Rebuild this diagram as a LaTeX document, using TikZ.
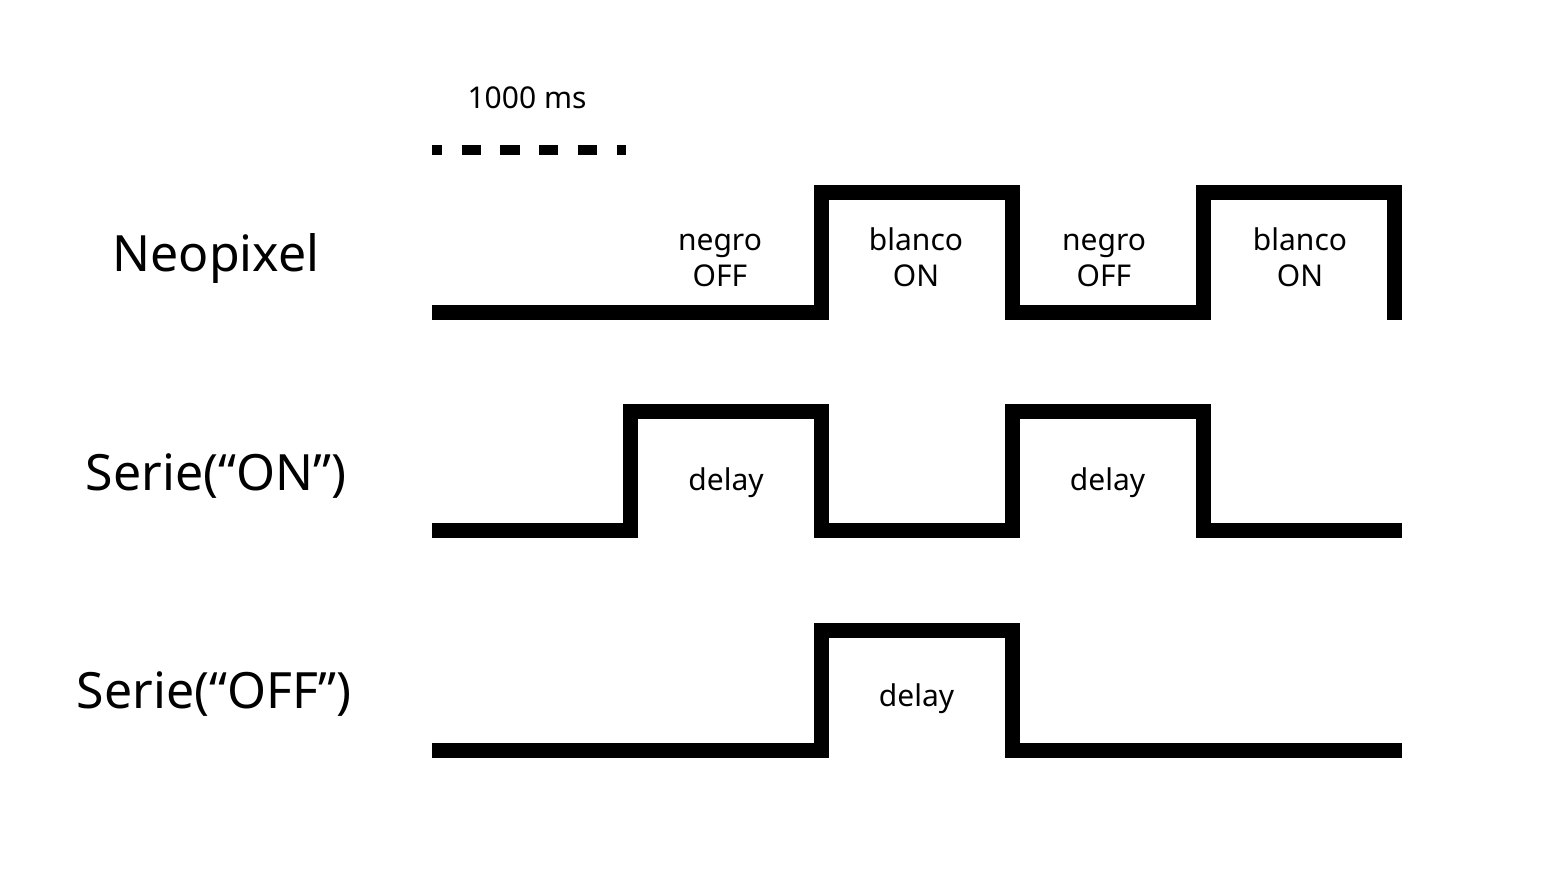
\documentclass[tikz,border=0pt]{standalone}
\usepackage{fontspec}
\setmainfont{Noto Sans}
\begin{document}
\begin{tikzpicture}[x=1pt,y=-1pt,
  wave/.style={line width=15pt, line join=miter, line cap=butt},
  small/.style={font=\fontsize{30}{36}\selectfont, inner sep=0pt, anchor=base},
  big/.style={font=\fontsize{50}{60}\selectfont, inner sep=0pt, anchor=base}]
\path[use as bounding box, fill=white] (0,0) rectangle (1541,887);

% scale bar
\draw[line width=9.5pt, dash pattern=on 19.2pt off 19.6pt, dash phase=9.3pt] (432,150) -- (626,150);
\node[small] (ms) at (527,108) {1000 ms};

% row labels
\node[big] (lneo) at (216,271.7) {Neopixel};
\node[big] (lon) at (216,490) {Serie(“ON”)};
\node[big] (loff) at (214,708) {Serie(“OFF”)};

% Neopixel
\draw[wave] (432,312.5) -- (821.5,312.5) -- (821.5,192.5) -- (1012,192.5) -- (1012,312.5)
  -- (1203,312.5) -- (1203,192.5) -- (1394.5,192.5) -- (1394.5,320);
\node[small] (n1a) at (720,250) {negro};
\node[small] (n1b) at (720,286.7) {OFF};
\node[small] (b1a) at (916,250) {blanco};
\node[small] (b1b) at (916,286.7) {ON};
\node[small] (n2a) at (1104,250) {negro};
\node[small] (n2b) at (1104,286.7) {OFF};
\node[small] (b2a) at (1300,250) {blanco};
\node[small] (b2b) at (1300,286.7) {ON};

% Serie ON
\draw[wave] (432,530.5) -- (630.5,530.5) -- (630.5,411.5) -- (821.5,411.5) -- (821.5,530.5)
  -- (1012,530.5) -- (1012,411.5) -- (1203,411.5) -- (1203,530.5) -- (1402,530.5);
\node[small] (d1) at (726,490) {delay};
\node[small] (d2) at (1107.5,490) {delay};

% Serie OFF
\draw[wave] (432,750) -- (821.5,750) -- (821.5,630.5) -- (1012,630.5) -- (1012,750) -- (1402,750);
\node[small] (d3) at (916.5,706.5) {delay};
\end{tikzpicture}
\end{document}
